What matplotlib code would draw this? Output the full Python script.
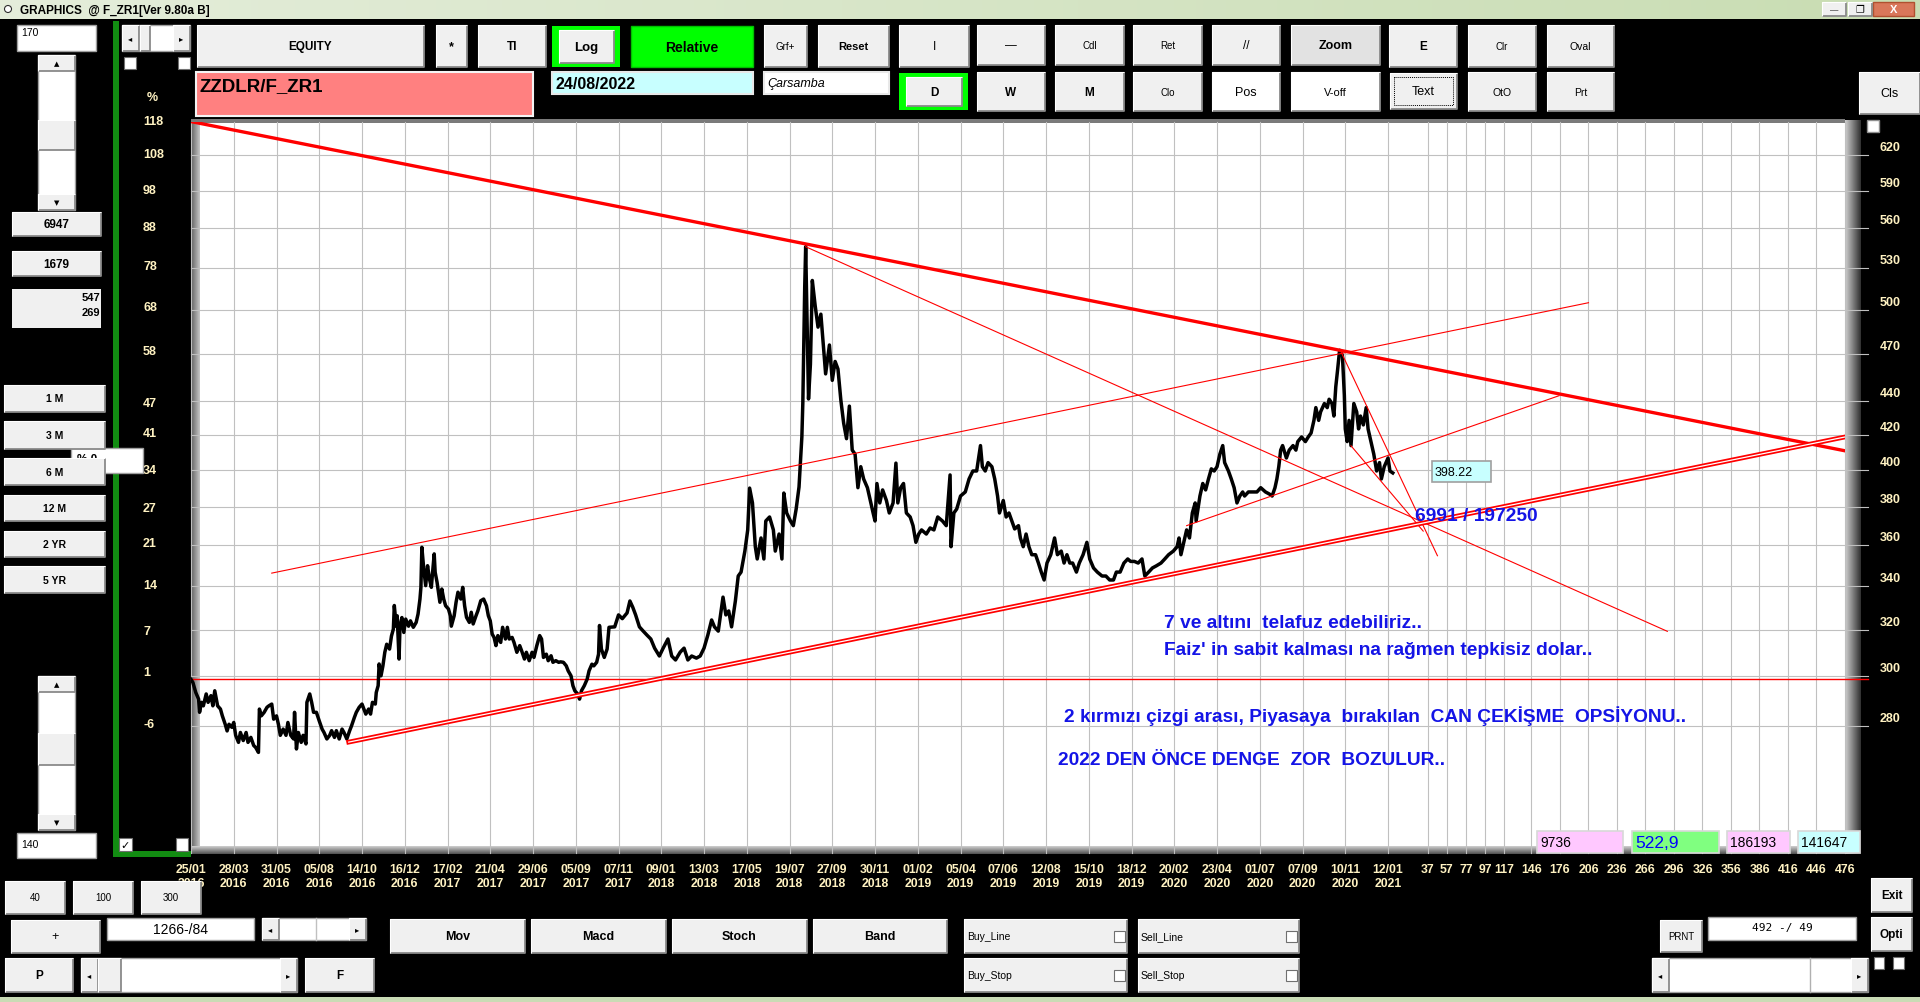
import matplotlib
matplotlib.use('Agg')
import matplotlib.pyplot as plt
from matplotlib.patches import Rectangle, Circle
from matplotlib.colors import LinearSegmentedColormap
from matplotlib.ticker import NullLocator
import numpy as np

plt.rcParams['font.family'] = ['Liberation Sans', 'DejaVu Sans']

# ---------------------------------------------------------------- data
bar_idx = [0, 2, 5, 8, 9, 11, 13, 16, 18, 21, 23, 25, 28, 31, 33, 36, 38, 40, 43, 45,
           47, 50, 52, 55, 58, 60, 63, 66, 68, 71, 72, 74, 77, 80, 82, 85, 87, 90, 92, 94,
           97, 100, 102, 105, 108, 109, 111, 113, 116, 118, 121, 122, 125, 127, 129, 132, 135, 138, 140, 143,
           146, 148, 151, 153, 156, 159, 161, 164, 167, 169, 172, 174, 177, 180, 182, 184, 187, 189, 191, 194,
           195, 197, 198, 200, 202, 204, 206, 209, 211, 213, 214, 216, 217, 219, 220, 222, 224, 226, 229, 231,
           234, 237, 239, 241, 242, 243, 245, 247, 249, 251, 253, 254, 256, 257, 259, 260, 262, 264, 266, 268,
           271, 273, 274, 277, 279, 281, 284, 286, 288, 290, 293, 295, 297, 300, 302, 305, 308, 311, 313, 315,
           317, 319, 321, 323, 326, 328, 331, 333, 335, 338, 340, 343, 346, 348, 351, 353, 356, 359, 361, 364,
           367, 369, 371, 374, 376, 379, 381, 384, 387, 389, 392, 395, 397, 400, 402, 404, 407, 409, 411, 414,
           417, 419, 422, 424, 427, 429, 430, 432, 435, 438, 440,
           446, 450, 454, 459, 462, 465, 468, 472, 476, 480,
           484, 488, 493, 497, 502, 506, 510, 515, 519, 523, 527, 532, 536, 540, 544, 548, 551, 555, 560, 563,
           566, 569, 573, 576, 579, 583, 586, 588, 591, 594, 596, 600, 603, 605, 609, 613, 615, 619, 622, 624,
           627, 631, 634, 637, 640, 643, 644, 645, 646, 647, 648, 650, 652, 654, 657, 660, 663, 668, 672, 675,
           678, 681, 684, 687, 690, 693, 696, 699, 702, 705, 708, 712, 715, 718, 720, 722, 725, 728, 732, 735,
           739, 742, 744, 747, 750, 753, 757, 760, 763, 766, 769, 774, 778, 782, 786, 791, 795, 799, 800, 803,
           806, 810, 815, 819, 823, 827, 831, 833, 836, 839, 843, 846, 849, 851, 855, 858, 861, 864, 867, 871,
           873, 876, 879, 882, 885, 889, 892, 895, 898, 901, 905, 909, 912, 916, 919, 922, 925, 928, 932, 935,
           939, 943, 946, 950, 954, 959, 963, 967, 971, 974, 978, 982, 986, 989, 993, 997, 1001, 1004, 1008, 1012,
           1016, 1021, 1025, 1029, 1034, 1038, 1040, 1042, 1045, 1048, 1051, 1054, 1057, 1058, 1062, 1065, 1068, 1071, 1074, 1077,
           1080, 1083, 1086, 1088, 1092, 1095, 1098, 1101, 1104, 1107, 1109, 1113, 1118, 1122, 1126, 1131, 1135, 1138, 1141, 1143,
           1145, 1147, 1149, 1153, 1156, 1160, 1163, 1165, 1169, 1173, 1176, 1179, 1182, 1184, 1187, 1189, 1193, 1196, 1198, 1201,
           1203, 1205, 1207, 1209, 1212, 1214, 1215, 1217, 1219, 1221, 1224, 1227, 1229, 1231, 1234, 1237, 1239, 1242, 1245, 1248,
           1251, 1253, 1256, 1260, 1262, 1265]
price = [298.6, 297.3, 293.2, 290.5, 285.2, 289.2, 287.8, 292.6, 289.2, 291.9, 287.8, 293.9, 287.8, 286.5, 283.8, 280.5, 277.9, 280.5, 279.3, 281.2,
         276.2, 273.5, 277.3, 274.2, 277.3, 273.5, 275.4, 272.3, 271.6, 269.7, 286.5, 283.8, 285.2, 287.2, 287.8, 288.5, 282.5, 283.8, 280.5, 276.2,
         278.6, 276.2, 281.2, 276.2, 274.8, 285.2, 271.0, 277.3, 273.5, 276.2, 272.9, 289.2, 292.6, 289.2, 285.2, 285.2, 281.8, 278.6, 277.3, 274.8,
         276.2, 278.0, 275.4, 278.0, 274.8, 278.6, 277.3, 274.8, 278.0, 279.9, 283.2, 285.2, 287.2, 288.5, 286.5, 284.5, 286.5, 284.5, 289.2, 288.5,
         293.2, 296.0, 305.1, 300.1, 304.3, 310.1, 313.6, 311.5, 317.2, 320.3, 331.0, 321.6, 326.3, 307.2, 321.6, 325.5, 318.8, 324.8, 321.6, 324.0,
         321.1, 323.3, 327.1, 334.0, 339.5, 359.0, 348.3, 340.3, 349.9, 343.5, 339.5, 345.1, 355.7, 346.7, 341.9, 338.7, 332.5, 338.7, 334.0, 330.9,
         329.4, 326.3, 321.6, 326.3, 332.5, 337.2, 334.0, 339.5, 330.9, 325.6, 323.3, 327.9, 322.6, 326.3, 328.6, 333.2, 334.0, 330.9, 326.3, 324.0,
         318.1, 316.6, 313.0, 317.4, 314.4, 321.1, 315.9, 321.1, 315.9, 316.6, 314.4, 310.1, 313.0, 310.8, 307.2, 310.1, 306.5, 310.1, 307.9, 313.0,
         317.4, 315.9, 307.9, 309.3, 306.5, 308.6, 305.8, 306.5, 305.8, 306.0, 305.8, 304.3, 302.2, 300.1, 296.0, 293.9, 292.6, 290.5, 293.9, 296.0,
         298.7, 302.2, 305.0, 304.3, 305.8, 309.3, 321.9, 311.5, 307.9, 311.5, 321.1,
         321.3, 326.7, 325.0, 327.6, 333.1, 330.2, 326.7, 321.3, 319.4, 317.6,
         315.9, 311.9, 308.5, 311.9, 315.9, 308.5, 306.8, 310.2, 311.9, 306.8, 308.5, 307.6, 308.5, 311.9, 317.6, 324.4, 321.3, 319.4, 334.9, 326.7,
         328.5, 321.3, 333.1, 344.9, 346.8, 357.1, 367.8, 389.9, 381.9, 359.3, 353.2, 363.7, 353.2, 372.4, 374.5, 367.8, 357.1, 365.7, 353.2, 387.2,
         376.6, 372.4, 370.0, 378.7, 390.5, 418.8, 438.9, 475.9, 516.1, 545.9, 509.7, 441.5, 463.4, 520.8, 502.8, 488.0, 496.9, 457.2, 476.0, 453.1,
         465.2, 460.3, 440.9, 426.8, 417.7, 437.1, 411.1, 408.8, 390.1, 401.7, 394.9, 390.1, 383.2, 376.6, 372.4, 392.4, 381.9, 388.9, 383.2, 376.6,
         381.9, 403.7, 381.9, 390.1, 392.4, 376.6, 374.5, 370.0, 361.5, 365.7, 367.8, 365.7, 368.8, 367.8, 374.5, 372.4, 370.0, 397.1, 359.3, 376.6,
         378.7, 385.6, 387.8, 394.9, 399.3, 399.3, 413.7, 401.7, 399.3, 404.0, 401.7, 394.9, 385.6, 376.6, 383.2, 374.5, 376.6, 372.4, 368.3, 370.0,
         363.7, 359.3, 365.7, 359.3, 355.3, 355.3, 351.2, 346.8, 343.0, 351.2, 355.3, 363.7, 355.3, 357.1, 351.2, 355.3, 351.2, 351.2, 346.8, 351.2,
         355.3, 361.5, 353.2, 348.8, 346.8, 344.9, 344.9, 343.0, 343.0, 346.8, 346.8, 351.2, 353.2, 352.0, 352.0, 351.2, 353.2, 344.9, 346.8, 348.8,
         349.8, 351.2, 353.2, 355.3, 357.1, 359.3, 363.7, 355.3, 361.5, 367.8, 363.7, 376.6, 381.9, 372.4, 385.6, 392.4, 388.9, 394.9, 400.5, 399.3,
         401.7, 408.8, 413.7, 404.0, 399.3, 394.9, 390.1, 381.9, 385.6, 387.8, 385.6, 387.8, 387.8, 387.8, 390.1, 387.8, 386.7, 385.6, 390.1, 394.9,
         401.7, 411.1, 413.7, 406.6, 411.1, 413.7, 411.1, 416.0, 418.7, 416.0, 418.7, 421.0, 428.5, 436.2, 428.5, 433.6, 438.7, 436.2, 441.3, 438.7,
         431.1, 449.1, 460.3, 472.5, 469.0, 443.8, 423.4, 416.0, 428.5, 413.7, 438.7, 433.6, 423.4, 431.1, 425.8, 436.2, 423.4, 416.0, 408.8, 399.3,
         404.0, 394.9, 401.7, 406.6, 399.3, 398.22]

date_days = ['25/01', '28/03', '31/05', '05/08', '14/10', '16/12', '17/02', '21/04', '29/06', '05/09',
             '07/11', '09/01', '13/03', '17/05', '19/07', '27/09', '30/11', '01/02', '05/04', '07/06',
             '12/08', '15/10', '18/12', '20/02', '23/04', '01/07', '07/09', '10/11', '12/01']
date_years = ['2016', '2016', '2016', '2016', '2016', '2016', '2017', '2017', '2017', '2017',
              '2017', '2018', '2018', '2018', '2018', '2018', '2018', '2019', '2019', '2019',
              '2019', '2019', '2019', '2020', '2020', '2020', '2020', '2020', '2021']
date_step = 45
future_offsets = [37, 57, 77, 97, 117, 146, 176, 206, 236, 266, 296, 326, 356, 386, 416, 446, 476]
right_ticks = [620, 590, 560, 530, 500, 470, 440, 420, 400, 380, 360, 340, 320, 300, 280]
left_pct = [118, 108, 98, 88, 78, 68, 58, 47, 41, 34, 27, 21, 14, 7, 1, -6]

thick_x = [0, 1741]
thick_y = [650.0, 410.7]
double_x = [166, 1741]
double_y = [273.6, 418.7]
thin_x = [[85, 1471], [647, 1554], [1210, 1312], [1221, 1297], [1048, 1440]]
thin_y = [[346.3, 504.9], [545.9, 319.3], [472.2, 354.8], [413.6, 367.2], [370.0, 443.5]]

note_text = ["7 ve altını  telafuz edebiliriz..",
             "Faiz' in sabit kalması na rağmen tepkisiz dolar..",
             "2 kırmızı çizgi arası, Piyasaya  bırakılan  CAN ÇEKİŞME  OPSİYONU..",
             "2022 DEN ÖNCE DENGE  ZOR  BOZULUR.."]
note_x = [1024, 1024, 919, 913]
note_y = [323.3, 311.5, 284.1, 267.2]
cross_text = "6991 / 197250"
cross_x, cross_y = 1288, 375.5
last_value = 398.22
stat_values = ['9736', '522,9', '186193', '141647']

# ---------------------------------------------------------------- figure
W, H = 1920, 1003
CREAM = '#FFF2C2'
fig = plt.figure(figsize=(W / 100, H / 100), dpi=100, facecolor='black')


def px_axes(z):
    a = fig.add_axes([0, 0, 1, 1], zorder=z)
    a.set_xlim(0, W)
    a.set_ylim(H, 0)
    a.axis('off')
    a.patch.set_alpha(0)
    return a


bg = px_axes(0)
CH_L, CH_R, CH_T, CH_B = 191, 1845, 123, 847
ax = fig.add_axes([CH_L / W, 1 - CH_B / H, (CH_R - CH_L) / W, (CH_B - CH_T) / H], zorder=1)
fg = px_axes(2)


def grad(a, x0, x1, y0, y1, c0, c1, horizontal, z=1):
    cmap = LinearSegmentedColormap.from_list('g', [c0, c1])
    arr = np.linspace(0, 1, 64)
    arr = arr[None, :] if horizontal else arr[:, None]
    a.imshow(arr, cmap=cmap, extent=(x0, x1, y1, y0), aspect='auto',
             interpolation='bilinear', zorder=z)


# chart frame (bevel) and white plotting field
bg.add_patch(Rectangle((200, 124), 1645, 723, facecolor='white', edgecolor='none', zorder=0.5))
grad(bg, 191, 200, 121, 854, '#606060', '#C8C8C8', True)
grad(bg, 191, 1860, 847, 855, '#D0D0D0', '#505050', False)
grad(bg, 1845, 1861, 121, 855, '#D0D0D0', '#303030', True)
bg.add_patch(Rectangle((191, 120), 1654, 4, facecolor='#7A7A7A', edgecolor='none', zorder=1.2))

# ---------------------------------------------------------------- chart
ax.patch.set_alpha(0)
for s in ax.spines.values():
    s.set_visible(False)
ax.set_yscale('log')
ax.set_xlim(0, 1741)
ax.set_ylim(236.7, 649.6)
ax.yaxis.set_major_locator(NullLocator())
ax.yaxis.set_minor_locator(NullLocator())
ax.tick_params(axis='y', which='both', left=False, right=False, labelleft=False)

base = price[0]
xext = (1868 - CH_L) / (CH_R - CH_L)
for p in right_ticks:
    ax.axhline(p, xmin=0, xmax=xext, color='#C0C0C0', lw=0.8, clip_on=False, zorder=0.5)
    ax.annotate(str(p), xy=(1, p), xycoords=('axes fraction', 'data'),
                xytext=(45 * 0.72, 8 * 0.72), textcoords='offset points',
                ha='center', va='center', color=CREAM, fontsize=9, fontweight='bold',
                annotation_clip=False)
for q in left_pct:
    ax.annotate(str(q), xy=(0, base * (1 + q / 100)), xycoords=('axes fraction', 'data'),
                xytext=((143 - CH_L) * 0.72, 0), textcoords='offset points',
                ha='left', va='center', color=CREAM, fontsize=9, fontweight='bold',
                annotation_clip=False)

tick_pos = [i * date_step for i in range(len(date_days))] + [bar_idx[-1] + k for k in future_offsets]
tick_lab = [f'{d}\n{y}' for d, y in zip(date_days, date_years)] + [str(k) for k in future_offsets]
yext = -(854 - CH_B) / (CH_B - CH_T)
for t in tick_pos:
    ax.axvline(t, ymin=yext, ymax=1, color='#C0C0C0', lw=0.8, clip_on=False, zorder=0.5)
ax.set_xticks(tick_pos)
ax.set_xticklabels(tick_lab)
ax.tick_params(axis='x', length=0, pad=12, labelsize=8.8, labelcolor=CREAM)
for t in ax.get_xticklabels():
    t.set_fontweight('bold')
    t.set_linespacing(1.3)

ax.axhline(base, xmin=0, xmax=xext, color='red', lw=1.0, clip_on=False, zorder=2)
ax.plot(bar_idx, price, color='black', lw=2.5, zorder=3)
ax.plot(thick_x, thick_y, color='red', lw=2.4, zorder=4)
ax.plot(double_x, double_y, color='red', lw=3.4, zorder=4)
ax.plot(double_x, double_y, color='white', lw=0.9, zorder=4.1)
for xs, ys in zip(thin_x, thin_y):
    ax.plot(xs, ys, color='red', lw=0.8, zorder=4)

BLUE = '#1414E6'
for t, x, y in zip(note_text, note_x, note_y):
    ax.text(x, y, t, color=BLUE, fontsize=13.8, fontweight='bold', ha='left', va='center', zorder=5)
ax.text(cross_x, cross_y, cross_text, color=BLUE, fontsize=13.8, fontweight='bold',
        ha='left', va='center', zorder=5)

# ---------------------------------------------------------------- UI helpers


def box(x0, y0, x1, y1, face='white', edge='#A0A0A0', lw=1.0, z=1):
    fg.add_patch(Rectangle((x0, y0), x1 - x0, y1 - y0, facecolor=face, edgecolor=edge, lw=lw, zorder=z))


def btn(x0, y0, x1, y1, label='', fs=8, bold=True, face='#F0F0F0', tc='black', style='normal', z=1):
    fg.add_patch(Rectangle((x0, y0), x1 - x0, y1 - y0, facecolor=face, edgecolor='none', zorder=z))
    fg.plot([x0, x1, x1], [y1, y1, y0], color='#8A8A8A', lw=1.3, zorder=z + 0.1, solid_capstyle='butt')
    fg.plot([x0, x0, x1], [y1, y0, y0], color='#FFFFFF', lw=0.8, zorder=z + 0.1, solid_capstyle='butt')
    if label:
        fg.text((x0 + x1) / 2, (y0 + y1) / 2, label, ha='center', va='center', fontsize=fs,
                fontweight='bold' if bold else 'normal', color=tc, style=style, zorder=z + 0.2)


def txt(x, y, s, fs=8, bold=False, ha='left', color='black', style='normal', family=None, z=1.5):
    kw = {}
    if family:
        kw['family'] = family
    fg.text(x, y, s, ha=ha, va='center', fontsize=fs, fontweight='bold' if bold else 'normal',
            color=color, style=style, zorder=z, **kw)


def checkbox(x0, y0, x1, y1, mark=False):
    box(x0, y0, x1, y1, face='white', edge='#707070', lw=0.8, z=1.3)
    if mark:
        txt((x0 + x1) / 2, (y0 + y1) / 2 + 0.5, '✓', fs=8, ha='center', family=['DejaVu Sans'], z=1.4)


def hscroll(x0, y0, x1, y1, thumb=None):
    box(x0, y0, x1, y1, face='white', edge='#A0A0A0', z=1)
    btn(x0, y0, x0 + 17, y1, z=1.1)
    btn(x1 - 17, y0, x1, y1, z=1.1)
    txt(x0 + 8.5, (y0 + y1) / 2, '◂', fs=6, ha='center', family=['DejaVu Sans'], z=1.4)
    txt(x1 - 8.5, (y0 + y1) / 2, '▸', fs=6, ha='center', family=['DejaVu Sans'], z=1.4)
    if thumb:
        btn(thumb[0], y0, thumb[1], y1, z=1.1)


def vscroll(x0, y0, x1, y1, thumb):
    box(x0, y0, x1, y1, face='white', edge='#A0A0A0', z=1)
    btn(x0, y0, x1, y0 + 16, z=1.1)
    btn(x0, y1 - 16, x1, y1, z=1.1)
    txt((x0 + x1) / 2, y0 + 8, '▲', fs=5, ha='center', family=['DejaVu Sans'], z=1.4)
    txt((x0 + x1) / 2, y1 - 8, '▼', fs=5, ha='center', family=['DejaVu Sans'], z=1.4)
    btn(x0, thumb[0], x1, thumb[1], z=1.1)


# title bar
grad(fg, 0, W, 0, 20, '#E4EDDA', '#C9DDB3', True, z=0.5)
fg.add_patch(Circle((8, 10), 3.5, facecolor='white', edgecolor='#303030', lw=0.8, zorder=1))
txt(20, 10.5, 'GRAPHICS  @ F_ZR1[Ver 9.80a B]', fs=8.5, bold=True)
btn(1822, 3, 1846, 17)
txt(1834, 11, '—', fs=6, ha='center')
btn(1848, 3, 1872, 17)
txt(1860, 10, '❐', fs=7, ha='center', family=['DejaVu Sans'])
box(1873, 3, 1914, 17, face='#D9775A', edge='#B05030', z=1)
txt(1893.5, 10, 'X', fs=8, bold=True, ha='center', color='white')
# bottom strip
fg.add_patch(Rectangle((0, 998), W, 5, facecolor='#C9DBB5', edgecolor='none', zorder=1))

# green frame
fg.add_patch(Rectangle((113, 22), 6, 836, facecolor='#128C12', edgecolor='none', zorder=0.8))
fg.add_patch(Rectangle((113, 852), 78, 6, facecolor='#128C12', edgecolor='none', zorder=0.8))

# left panel
box(17, 26, 96, 52)
txt(21, 33, '170', fs=7.5)
vscroll(38, 56, 75, 211, (121, 151))
hscroll(122, 26, 190, 52, thumb=(140, 150))
checkbox(124, 58, 136, 70)
checkbox(178, 58, 190, 70)
btn(12, 213, 101, 237, '6947', fs=8.5)
btn(12, 252, 101, 277, '1679', fs=8.5)
box(12, 290, 101, 329, face='#F0F0F0', edge='none')
txt(100, 297.5, '547', fs=8, bold=True, ha='right')
txt(100, 312.5, '269', fs=8, bold=True, ha='right')
box(71, 449, 143, 474, face='white', edge='#A0A0A0', z=1.6)
txt(77, 460, '% 0', fs=8.5, bold=True, z=1.7)
for (y0, y1), lab in zip([(386, 413), (422, 450), (459, 486), (496, 522), (532, 558), (567, 594)],
                         ['1 M', '3 M', '6 M', '12 M', '2 YR', '5 YR']):
    btn(4, y0, 105, y1, lab, fs=7.5, z=2)
txt(152, 98, '%', fs=9, bold=True, ha='center', color=CREAM)
vscroll(38, 677, 75, 831, (734, 766))
box(17, 834, 96, 859)
txt(21, 845, '140', fs=7.5)
checkbox(119, 839, 132, 852, mark=True)
checkbox(176, 839, 188, 852)

# top toolbar, row 1
btn(197, 26, 424, 68, 'EQUITY', fs=8.5)
btn(436, 26, 467, 68, '*', fs=9)
btn(478, 26, 546, 68, 'Tl', fs=8.5)
box(552, 27, 620, 68, face='#00FF00', edge='none')
btn(559, 31, 614, 64, 'Log', fs=9.5, z=1.2)
box(631, 27, 753, 68, face='#00FF00', edge='#00C000')
txt(692, 47.5, 'Relative', fs=10, bold=True, ha='center', color='black')
btn(764, 26, 807, 68, 'Grf+', fs=7, bold=False)
btn(818, 26, 889, 68, 'Reset', fs=8)
btn(899, 26, 969, 68, 'I', fs=8.5, bold=False)
btn(977, 26, 1045, 66, '—', fs=8.5, bold=False)
btn(1055, 26, 1124, 66, 'Cdl', fs=7, bold=False)
btn(1133, 26, 1202, 66, 'Ret', fs=7, bold=False)
btn(1212, 26, 1280, 66, '//', fs=8.5, bold=False)
btn(1291, 26, 1380, 66, 'Zoom', fs=9, face='#E2E2E2')
btn(1389, 26, 1457, 68, 'E', fs=8.5)
btn(1468, 26, 1536, 68, 'Clr', fs=7, bold=False)
btn(1547, 26, 1614, 68, 'Oval', fs=7.5, bold=False)

# row 2
box(196, 73, 533, 117, face='#FF8080', edge='#F4F4F4', lw=1.5)
txt(199, 87, 'ZZDLR/F_ZR1', fs=13.5, bold=True)
box(552, 73, 753, 95, face='#C8FFFF', edge='#E8E8E8', lw=1.5)
txt(555, 84, '24/08/2022', fs=11.5, bold=True)
box(764, 73, 889, 95, face='white', edge='#E8E8E8', lw=1.5)
txt(767, 84, 'Çarsamba', fs=9, style='italic')
box(899, 74, 968, 111, face='#00FF00', edge='none')
btn(906, 78, 962, 107, 'D', fs=8.5, z=1.2)
btn(977, 73, 1045, 112, 'W', fs=8.5)
btn(1055, 73, 1124, 112, 'M', fs=8.5)
btn(1133, 73, 1202, 112, 'Clo', fs=7, bold=False)
btn(1212, 73, 1280, 112, 'Pos', fs=9, bold=False, face='white')
btn(1291, 73, 1380, 112, 'V-off', fs=8, bold=False, face='white')
btn(1390, 74, 1457, 110, 'Text', fs=9, bold=False)
fg.add_patch(Rectangle((1394, 78), 59, 28, fill=False, ls=(0, (1, 1)), lw=0.7, edgecolor='black', zorder=1.5))
btn(1468, 73, 1536, 112, 'OtO', fs=7.5, bold=False)
btn(1547, 73, 1614, 112, 'Prt', fs=7.5, bold=False)
btn(1859, 73, 1920, 115, 'Cls', fs=9, bold=False)
box(1867, 121, 1879, 133, face='white', edge='#909090')

# value boxes on the chart
box(1432, 462, 1491, 483, face='#C8FFFF', edge='#A0A0A0', lw=1.2)
txt(1435, 472.5, f'{last_value:.2f}', fs=9)
for (x0, x1), face, val in zip([(1537, 1623), (1632, 1719), (1727, 1790), (1798, 1860)],
                               ['#FFC8FF', '#80FF80', '#FFC8FF', '#C8FFFF'], stat_values):
    box(x0, 832, x1, 854, face=face, edge='#D8D8D8', lw=1.2)
    if val == '522,9':
        txt(x0 + 3, 844, val, fs=12.5, color='#0000FF')
    else:
        txt(x0 + 3, 843, val, fs=10)

# bottom controls
btn(5, 882, 65, 915, '40', fs=7, bold=False)
btn(73, 882, 133, 915, '100', fs=7, bold=False)
btn(141, 882, 201, 915, '300', fs=7, bold=False)
btn(11, 921, 100, 954, '+', fs=9, bold=False)
box(107, 919, 254, 941)
txt(180, 930, '1266-/84', fs=10, ha='center')
hscroll(262, 919, 366, 941)
fg.plot([316, 316], [919, 941], color='#C0C0C0', lw=1, zorder=1.2)
btn(5, 959, 73, 993, 'P', fs=8.5)
hscroll(81, 959, 297, 993, thumb=(98, 121))
btn(305, 959, 374, 993, 'F', fs=8.5)
for (x0, x1), lab in zip([(390, 525), (531, 666), (672, 807), (813, 947)], ['Mov', 'Macd', 'Stoch', 'Band']):
    btn(x0, 920, x1, 954, lab, fs=9)
for (x0, x1), (y0, y1), lab in zip([(964, 1127), (1138, 1299), (964, 1127), (1138, 1299)],
                                   [(920, 954), (920, 954), (959, 993), (959, 993)],
                                   ['Buy_Line', 'Sell_Line', 'Buy_Stop', 'Sell_Stop']):
    btn(x0, y0, x1, y1)
    txt(x0 + 3, (y0 + y1) / 2, lab, fs=7.5)
    checkbox(x1 - 13, y0 + 12, x1 - 2, y0 + 23)
btn(1660, 921, 1702, 953, 'PRNT', fs=7, bold=False)
box(1708, 918, 1856, 941)
txt(1782, 928.5, '492 -/ 49', fs=8, ha='center', family=['DejaVu Sans Mono'])
btn(1871, 879, 1912, 913, 'Exit', fs=8.5)
btn(1871, 918, 1912, 952, 'Opti', fs=8.5)
hscroll(1652, 959, 1868, 993)
fg.plot([1810, 1810], [959, 993], color='#B0B0B0', lw=1, zorder=1.2)
checkbox(1874, 958, 1884, 970)
checkbox(1893, 958, 1904, 970)

fig.savefig('out.png', dpi=100, facecolor='black')
